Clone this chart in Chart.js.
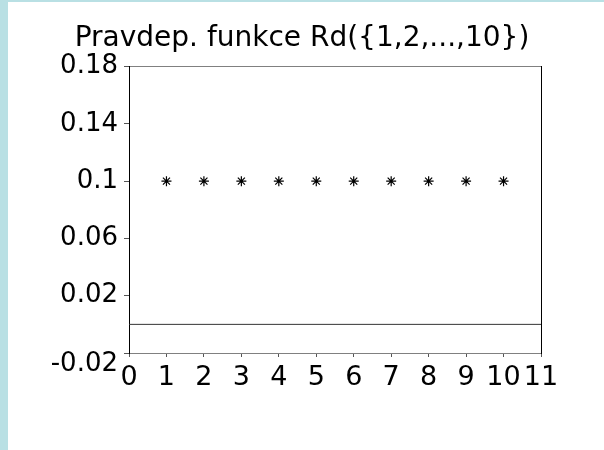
<!DOCTYPE html>
<html>
<head>
<meta charset="utf-8">
<script src="https://cdn.jsdelivr.net/npm/chart.js@4/dist/chart.umd.min.js"></script>
<style>
  html, body { margin: 0; padding: 0; background: #b9e0e4; width: 604px; height: 450px; overflow: hidden; }
  #page { position: absolute; left: 8px; top: 2px; width: 596px; height: 448px; background: #fff; }
  #chart { position: absolute; left: 0; top: 0; }
</style>
</head>
<body>
<div id="page"></div>
<canvas id="chart" width="604" height="450"></canvas>
<script>
const titleText = 'Pravdep. funkce Rd({1,2,...,10})';
const xValues = [1, 2, 3, 4, 5, 6, 7, 8, 9, 10];
const probValues = [0.1, 0.1, 0.1, 0.1, 0.1, 0.1, 0.1, 0.1, 0.1, 0.1];
const zeroLineX = [0, 11];
const zeroLineY = [0, 0];
const xTicks = [0, 1, 2, 3, 4, 5, 6, 7, 8, 9, 10, 11];
const yTicks = [-0.02, 0.02, 0.06, 0.1, 0.14, 0.18];

const FONT = "'DejaVu Sans', 'Liberation Sans', sans-serif";

const points = xValues.map((x, i) => ({ x, y: probValues[i] }));
const zeroLine = zeroLineX.map((x, i) => ({ x, y: zeroLineY[i] }));

new Chart(document.getElementById('chart'), {
  type: 'scatter',
  data: {
    datasets: [
      { data: points, pointStyle: 'star', pointRadius: 5, borderColor: '#000', backgroundColor: '#000', borderWidth: 1.2, showLine: false },
      { data: zeroLine, showLine: true, borderColor: '#333', borderWidth: 1, pointRadius: 0 }
    ]
  },
  options: {
    responsive: false,
    animation: false,
    layout: { padding: 0 },
    plugins: {
      legend: { display: false },
      tooltip: { enabled: false },
      title: {
        display: true, text: titleText, color: '#000',
        font: { family: FONT, size: 28, weight: 'normal' },
        padding: { top: 22, bottom: 0 }
      }
    },
    scales: {
      x: {
        type: 'linear', position: 'bottom', min: 0, max: 11,
        afterBuildTicks: s => { s.ticks = xTicks.map(v => ({ value: v })); },
        afterFit: s => { s.height = 97; },
        ticks: { color: '#000', font: { family: FONT, size: 27 }, padding: 5, autoSkip: false, maxRotation: 0, callback: v => String(v) },
        grid: { drawOnChartArea: false, tickLength: 4, color: '#555' },
        border: { color: '#808080' }
      },
      x2: {
        type: 'linear', position: 'top', min: 0, max: 11,
        afterFit: s => { s.height = 11; },
        ticks: { display: false },
        grid: { display: false },
        border: { color: '#808080' }
      },
      y: {
        type: 'linear', position: 'left', min: -0.02, max: 0.18,
        afterBuildTicks: s => { s.ticks = yTicks.map(v => ({ value: v })); },
        afterFit: s => { s.width = 129; },
        ticks: {
          color: '#000', padding: 6,
          // the lowest label sits a little below its tick, as in the original
          font: ctx => ({ family: FONT, size: 26, lineHeight: ctx.index === 0 ? 0.9 : 1.2 }),
          callback: (v, i) => i === 0 ? ['', String(v)] : String(v)
        },
        grid: { drawOnChartArea: false, tickLength: 5, color: '#555' },
        border: { color: '#000' }
      },
      y2: {
        type: 'linear', position: 'right', min: -0.02, max: 0.18,
        afterFit: s => { s.width = 63; },
        ticks: { display: false },
        grid: { display: false },
        border: { color: '#000' }
      }
    }
  }
});
</script>
</body>
</html>
